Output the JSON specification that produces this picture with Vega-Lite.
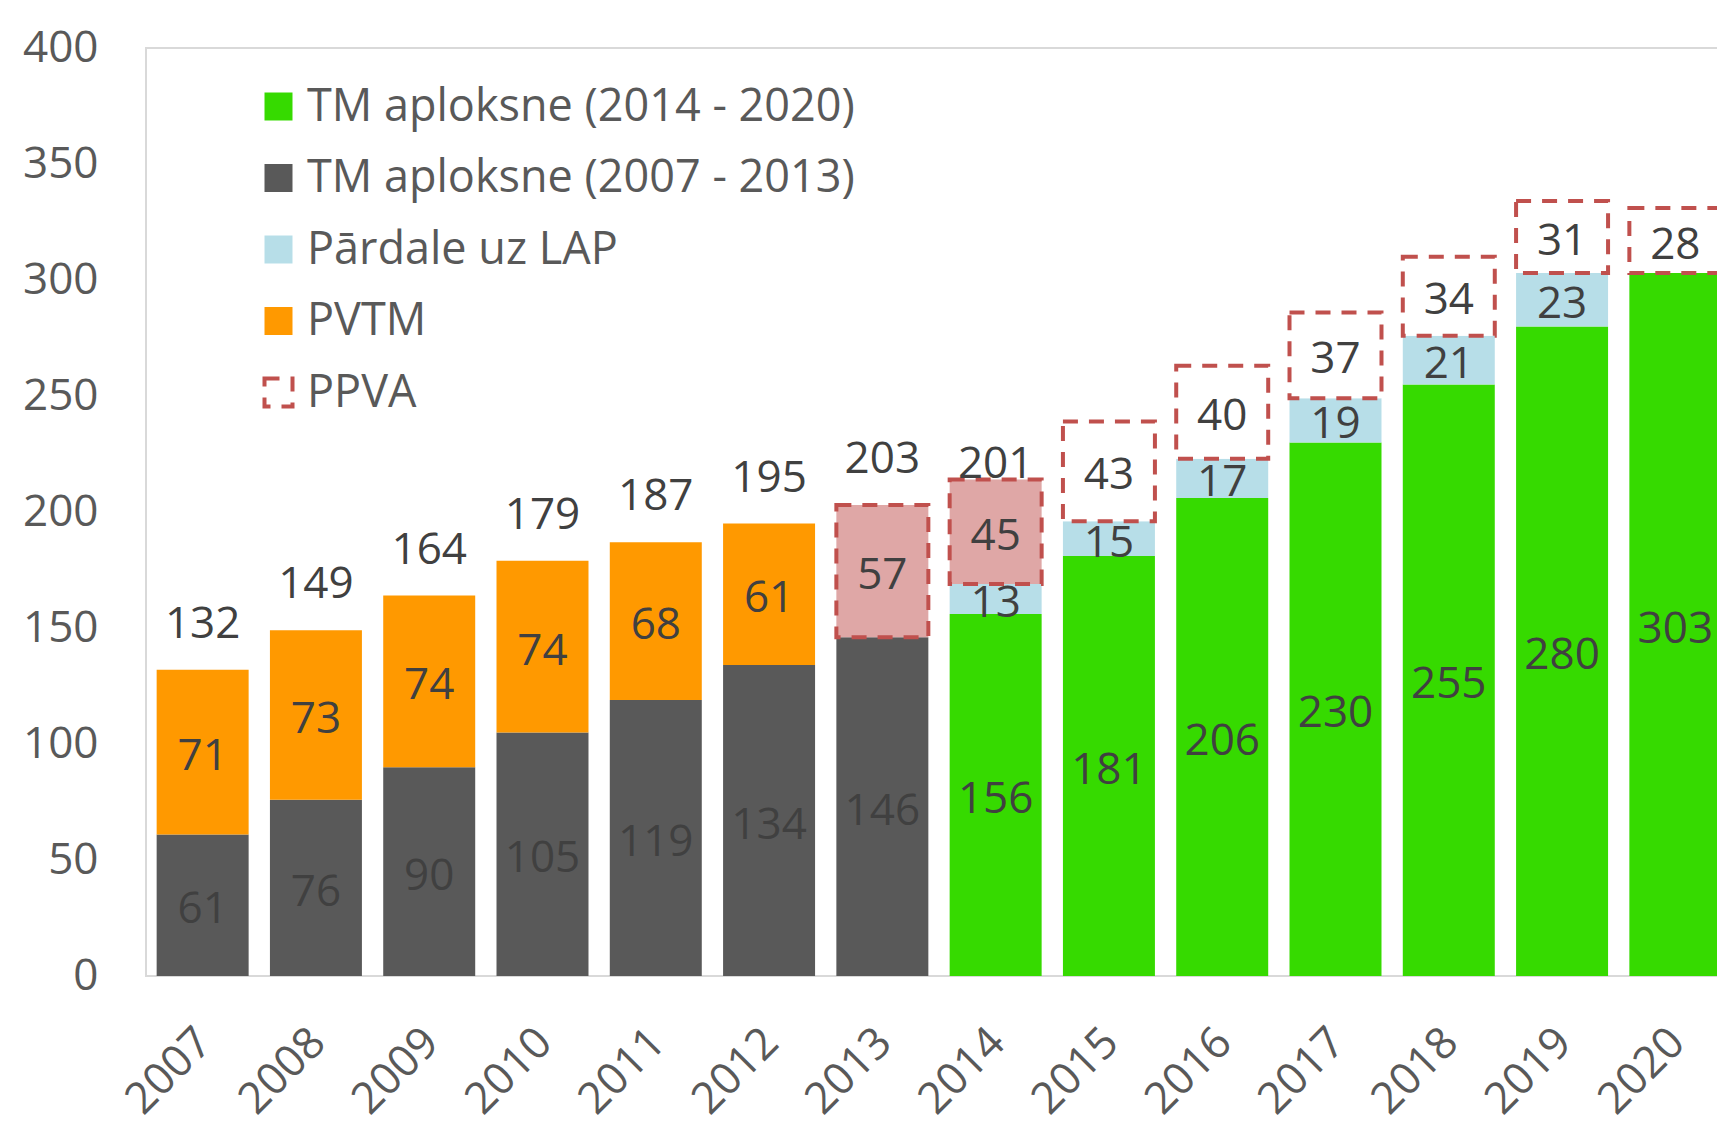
{
  "$schema": "https://vega.github.io/schema/vega-lite/v6.json",
  "width": 1586,
  "height": 928,
  "autosize": {"type": "none"},
  "padding": {"left": 146, "top": 48, "right": -15, "bottom": 152},
  "background": "white",
  "datasets": {
    "seg": [
      {"year": "2007", "series": "TM aploksne (2007 - 2013)", "value": 61},
      {"year": "2007", "series": "PVTM", "value": 71},
      {"year": "2008", "series": "TM aploksne (2007 - 2013)", "value": 76},
      {"year": "2008", "series": "PVTM", "value": 73},
      {"year": "2009", "series": "TM aploksne (2007 - 2013)", "value": 90},
      {"year": "2009", "series": "PVTM", "value": 74},
      {"year": "2010", "series": "TM aploksne (2007 - 2013)", "value": 105},
      {"year": "2010", "series": "PVTM", "value": 74},
      {"year": "2011", "series": "TM aploksne (2007 - 2013)", "value": 119},
      {"year": "2011", "series": "PVTM", "value": 68},
      {"year": "2012", "series": "TM aploksne (2007 - 2013)", "value": 134},
      {"year": "2012", "series": "PVTM", "value": 61},
      {"year": "2013", "series": "TM aploksne (2007 - 2013)", "value": 146},
      {"year": "2013", "series": "PPVA", "value": 57},
      {"year": "2014", "series": "TM aploksne (2014 - 2020)", "value": 156},
      {"year": "2014", "series": "Pārdale uz LAP", "value": 13},
      {"year": "2014", "series": "PPVA", "value": 45},
      {"year": "2015", "series": "TM aploksne (2014 - 2020)", "value": 181},
      {"year": "2015", "series": "Pārdale uz LAP", "value": 15},
      {"year": "2015", "series": "PPVA", "value": 43},
      {"year": "2016", "series": "TM aploksne (2014 - 2020)", "value": 206},
      {"year": "2016", "series": "Pārdale uz LAP", "value": 17},
      {"year": "2016", "series": "PPVA", "value": 40},
      {"year": "2017", "series": "TM aploksne (2014 - 2020)", "value": 230},
      {"year": "2017", "series": "Pārdale uz LAP", "value": 19},
      {"year": "2017", "series": "PPVA", "value": 37},
      {"year": "2018", "series": "TM aploksne (2014 - 2020)", "value": 255},
      {"year": "2018", "series": "Pārdale uz LAP", "value": 21},
      {"year": "2018", "series": "PPVA", "value": 34},
      {"year": "2019", "series": "TM aploksne (2014 - 2020)", "value": 280},
      {"year": "2019", "series": "Pārdale uz LAP", "value": 23},
      {"year": "2019", "series": "PPVA", "value": 31},
      {"year": "2020", "series": "TM aploksne (2014 - 2020)", "value": 303},
      {"year": "2020", "series": "PPVA", "value": 28}
    ],
    "tot": [
      {"year": "2007", "total": 132},
      {"year": "2008", "total": 149},
      {"year": "2009", "total": 164},
      {"year": "2010", "total": 179},
      {"year": "2011", "total": 187},
      {"year": "2012", "total": 195},
      {"year": "2013", "total": 203},
      {"year": "2014", "total": 201}
    ]
  },
  "layer": [
    {
      "data": {"name": "seg"},
      "transform": [
        {"calculate": "indexof(['TM aploksne (2007 - 2013)', 'TM aploksne (2014 - 2020)', 'Pārdale uz LAP', 'PVTM', 'PPVA'], datum.series)", "as": "ord"},
        {"stack": "value", "groupby": ["year"], "sort": [{"field": "ord", "order": "ascending"}], "as": ["v0", "v1"]}
      ],
      "mark": {"type": "bar", "strokeWidth": 4},
      "encoding": {
        "x": {"field": "year", "type": "ordinal", "scale": {"paddingInner": 0.188, "paddingOuter": 0.094}, "axis": {"title": null}},
        "y": {"field": "v1", "type": "quantitative", "scale": {"domain": [0, 400], "nice": false}, "axis": {"title": null, "values": [0, 50, 100, 150, 200, 250, 300, 350, 400]}},
        "y2": {"field": "v0"},
        "color": {
          "condition": [
            {"test": "datum.series === 'PPVA' && (datum.year === '2013' || datum.year === '2014')", "value": "#DFA7A6"},
            {"test": "datum.series === 'PPVA'", "value": "#FFFFFF"}
          ],
          "field": "series",
          "type": "nominal",
          "scale": {
            "domain": ["TM aploksne (2014 - 2020)", "TM aploksne (2007 - 2013)", "Pārdale uz LAP", "PVTM", "PPVA"],
            "range": ["#36DA00", "#595959", "#B7DEE8", "#FF9900", "transparent"]
          },
          "legend": {
            "title": null,
            "orient": "none",
            "legendX": 110,
            "legendY": 36,
            "direction": "vertical",
            "labelFont": "Open Sans",
            "labelFontSize": 45,
            "labelColor": "#595959",
            "labelOffset": 6,
            "symbolType": "square",
            "symbolSize": 784,
            "symbolStrokeWidth": 4,
            "symbolOpacity": 1,
            "rowPadding": 25.5,
            "labelLimit": 800
          }
        },
        "stroke": {
          "field": "series",
          "type": "nominal",
          "scale": {
            "domain": ["TM aploksne (2014 - 2020)", "TM aploksne (2007 - 2013)", "Pārdale uz LAP", "PVTM", "PPVA"],
            "range": ["transparent", "transparent", "transparent", "transparent", "#C0504D"]
          },
          "legend": {
            "title": null,
            "orient": "none",
            "legendX": 110,
            "legendY": 36,
            "direction": "vertical",
            "labelFont": "Open Sans",
            "labelFontSize": 45,
            "labelColor": "#595959",
            "labelOffset": 6,
            "symbolType": "square",
            "symbolSize": 784,
            "symbolStrokeWidth": 4,
            "symbolOpacity": 1,
            "rowPadding": 25.5,
            "labelLimit": 800
          }
        },
        "strokeDash": {
          "field": "series",
          "type": "nominal",
          "scale": {
            "domain": ["TM aploksne (2014 - 2020)", "TM aploksne (2007 - 2013)", "Pārdale uz LAP", "PVTM", "PPVA"],
            "range": [[1, 0], [1, 0], [1, 0], [1, 0], [15, 11]]
          },
          "legend": {
            "title": null,
            "orient": "none",
            "legendX": 110,
            "legendY": 36,
            "direction": "vertical",
            "labelFont": "Open Sans",
            "labelFontSize": 45,
            "labelColor": "#595959",
            "labelOffset": 6,
            "symbolType": "square",
            "symbolSize": 784,
            "symbolStrokeWidth": 4,
            "symbolOpacity": 1,
            "rowPadding": 25.5,
            "labelLimit": 800
          }
        }
      }
    },
    {
      "data": {"name": "seg"},
      "transform": [
        {"calculate": "indexof(['TM aploksne (2007 - 2013)', 'TM aploksne (2014 - 2020)', 'Pārdale uz LAP', 'PVTM', 'PPVA'], datum.series)", "as": "ord"},
        {"stack": "value", "groupby": ["year"], "sort": [{"field": "ord", "order": "ascending"}], "as": ["v0", "v1"]},
        {"calculate": "(datum.v0 + datum.v1) / 2", "as": "mid"}
      ],
      "mark": {"type": "text", "font": "Open Sans", "fontSize": 44, "color": "#404040", "baseline": "middle", "align": "center", "dy": 5},
      "encoding": {
        "x": {"field": "year", "type": "ordinal", "axis": {"title": null}},
        "y": {"field": "mid", "type": "quantitative", "axis": {"title": null}},
        "text": {"field": "value", "type": "quantitative"}
      }
    },
    {
      "data": {"name": "tot"},
      "mark": {"type": "text", "font": "Open Sans", "fontSize": 44, "color": "#404040", "baseline": "alphabetic", "align": "center", "dy": -32},
      "encoding": {
        "x": {"field": "year", "type": "ordinal", "axis": {"title": null}},
        "y": {"field": "total", "type": "quantitative", "axis": {"title": null}},
        "text": {"field": "total", "type": "quantitative"}
      }
    }
  ],
  "config": {
    "view": {"stroke": "#D9D9D9", "strokeWidth": 2},
    "axisY": {"labelFont": "Open Sans", "labelFontSize": 44, "labelColor": "#595959", "domain": false, "ticks": false, "tickSize": 0, "grid": false, "labelPadding": 48},
    "axisX": {"labelFont": "Open Sans", "labelFontSize": 44, "labelColor": "#595959", "domain": false, "ticks": false, "tickSize": 0, "grid": false, "labelAngle": -45, "labelAlign": "right", "labelBaseline": "top", "labelPadding": 44, "labelOffset": -13}
  }
}
